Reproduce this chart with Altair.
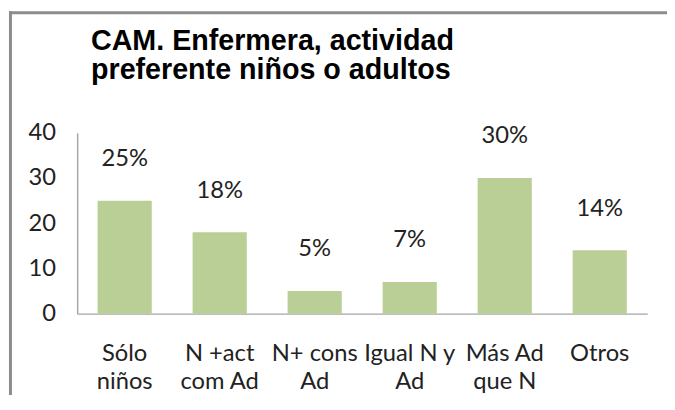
import altair as alt
import pandas as pd

categories = ["Sólo\nniños", "N +act\ncom Ad", "N+ cons\nAd", "Igual N y\nAd", "Más Ad\nque N", "Otros"]
values = [25, 18, 5, 7, 30, 14]
labels = ["25%", "18%", "5%", "7%", "30%", "14%"]
title_lines = ["CAM. Enfermera, actividad", "preferente niños o adultos"]

df = pd.DataFrame({"cat": categories, "val": values, "lab": labels})

FONT = "Lato"
FS = 24
x_enc = alt.X(
    "cat:N",
    sort=None,
    title=None,
    scale=alt.Scale(paddingInner=0.43, paddingOuter=0.215),
    axis=alt.Axis(
        labelAngle=0,
        ticks=False,
        domainColor="#a6a6a6",
        domainWidth=1.5,
        labelFont=FONT,
        labelFontSize=FS,
        labelColor="#222222",
        labelPadding=40,
        labelLimit=0,
        labelOverlap=False,
        labelLineHeight=29,
        labelBaseline="middle",
        labelExpr="split(datum.label, '\\n')",
    ),
)
y_enc = alt.Y(
    "val:Q",
    title=None,
    scale=alt.Scale(domain=[0, 40], nice=False),
    axis=alt.Axis(
        values=[0, 10, 20, 30, 40],
        ticks=False,
        grid=False,
        domainColor="#a6a6a6",
        domainWidth=1.5,
        labelFont=FONT,
        labelFontSize=FS,
        labelColor="#222222",
        labelPadding=22,
    ),
)

base = alt.Chart(df)
bars = base.mark_bar(color="#b9cf96").encode(x=x_enc, y=y_enc)
text = base.mark_text(font=FONT, fontSize=FS, color="#222222", dy=-42, baseline="middle").encode(
    x=alt.X("cat:N", sort=None), y="val:Q", text="lab:N"
)

one = pd.DataFrame({"k": [0]})
top_rule = alt.Chart(one).mark_rule(color="#8c8c8c", strokeWidth=3).encode(
    x=alt.value(-69), x2=alt.value(700), y=alt.value(-121.5)
)
left_rule = alt.Chart(one).mark_rule(color="#8c8c8c", strokeWidth=3).encode(
    x=alt.value(-67.5), y=alt.value(-123), y2=alt.value(400)
)
title = alt.Chart(one).mark_text(
    text=title_lines,
    font="Liberation Sans",
    fontSize=29,
    fontWeight="bold",
    color="#000000",
    align="left",
    baseline="alphabetic",
    lineHeight=30,
).encode(x=alt.value(14), y=alt.value(-84))

chart = (
    alt.layer(top_rule, left_rule, bars, text, title)
    .properties(
        width=577,
        height=183,
        autosize=alt.AutoSizeParams(type="none"),
        padding={"left": 70, "top": 124, "right": 20, "bottom": 80},
    )
    .configure_view(stroke=None)
)

chart.save("out.html", embed_options={"renderer": "svg", "actions": False})
